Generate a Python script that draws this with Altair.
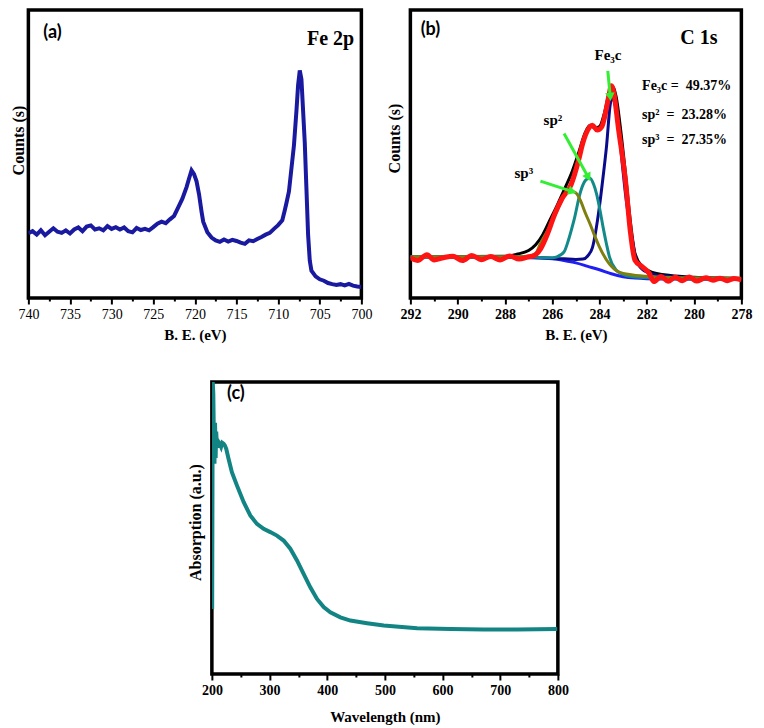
import math
import altair as alt
import pandas as pd

SERIF = "Liberation Serif"
SANS = "Lato"
NB = "\u00a0"

# ---------------- Panel (a): Fe 2p ----------------
fe_x = [740, 739.5, 739, 738.5, 738, 737.5, 737, 736.5, 736, 735.5, 735, 734.5, 734, 733.5,
        733, 732.5, 732, 731.5, 731, 730.5, 730, 729.5, 729, 728.5, 728, 727.5, 727, 726.5,
        726, 725.5, 725, 724.5, 724, 723.5, 723, 722.5, 722, 721.5, 721, 720.7, 720.4, 720.1,
        719.8, 719.5, 719.2, 719, 718.5, 718, 717.5, 717, 716.5, 716, 715.5, 715, 714.5, 714,
        713.5, 713, 712.5, 712, 711.5, 711, 710.5, 710, 709.5, 709.2, 709, 708.7, 708.4, 708.1,
        707.8, 707.6, 707.4, 707.2, 707.0, 706.8, 706.6, 706.4, 706.2, 706.0, 705.5, 705, 704.5,
        704, 703.5, 703, 702.5, 702, 701.5, 701, 700.5, 700]
fe_y = [22.5, 23.2, 22.0, 23.5, 21.8, 23.0, 24.2, 23.0, 22.6, 23.5, 22.4, 23.8, 24.5, 23.2,
        24.8, 25.2, 23.8, 24.2, 23.5, 25.0, 24.0, 24.6, 23.8, 24.5, 23.2, 22.8, 24.3, 23.6,
        24.0, 23.5, 24.6, 25.8, 26.5, 26.0, 27.3, 28.5, 31.5, 34.5, 38.5, 41.5, 44.3, 43.0,
        40.5, 36.0, 30.0, 26.5, 22.8, 21.0, 20.0, 19.5, 20.3, 19.6, 20.2, 19.8, 19.2, 18.8,
        20.0, 19.7, 20.5, 21.2, 22.0, 22.6, 24.0, 25.3, 27.0, 30.5, 33.0, 37.0, 45.0, 53.0,
        65.0, 74.0, 79.0, 76.0, 65.0, 54.0, 38.0, 22.0, 13.0, 9.5, 7.5, 6.5, 6.0,
        5.2, 4.8, 4.5, 4.8, 4.4, 4.9, 4.3, 4.0, 3.8]
a_ticks = [700 + 2.5 * i for i in range(17)]

# ---------------- Panel (b): C 1s ----------------
c1s_x = [292, 291.7, 291.3, 291.0, 290.6, 290.2, 289.8, 289.4, 289.0, 288.6, 288.2, 287.8, 287.4,
         287.0, 286.8, 286.5, 286.2, 285.9, 285.6, 285.2, 284.9, 284.7, 284.5, 284.3, 284.1, 283.9,
         283.8, 283.6, 283.5, 283.4, 283.2, 282.9, 282.7, 282.5, 282.2, 281.9, 281.7, 281.4, 281.1,
         280.8, 280.5, 280.2, 279.9, 279.5, 279.2, 278.9, 278.6, 278.3, 278.0]
c1s_y = [14.0, 13.0, 15.0, 13.2, 14.0, 14.5, 13.0, 14.8, 13.3, 14.4, 13.2, 14.6, 13.5,
         14.3, 14.6, 17.0, 22.3, 29.0, 34.3, 39.4, 47.4, 54.0, 58.3, 60.0, 58.3, 59.5,
         62.3, 70.3, 73.7, 71.4, 58.9, 40.6, 23.4, 13.1, 10.9, 8.6, 5.7, 7.5, 5.8,
         7.2, 6.0, 7.3, 5.9, 7.0, 6.2, 6.9, 6.0, 6.8, 6.3]
env_x = [292, 288, 287.5, 287, 286.7, 286.4, 286.1, 285.8, 285.5, 285.2, 284.9, 284.6, 284.4,
         284.2, 284.0, 283.8, 283.6, 283.45, 283.3, 283.1, 282.9, 282.7, 282.5, 282.2, 281.8,
         281, 280, 278]
env_y = [14.3, 14.5, 15.2, 16.5, 18.5, 22, 27, 32, 37.5, 43, 50, 57.5, 60,
         59, 59.5, 64, 71, 73.5, 70, 58, 43, 27, 15.5, 11, 9,
         7.8, 7.2, 6.8]
bg_x = [292, 288, 287, 286, 285.5, 285, 284.5, 284, 283.5, 283, 282.5, 282, 281, 280, 278]
bg_y = [14.3, 14.2, 14.0, 13.6, 13.0, 12.2, 11.0, 9.8, 8.4, 7.4, 6.9, 6.7, 6.6, 6.5, 6.4]
fe3c_x = [292, 287, 285.5, 285, 284.7, 284.5, 284.3, 284.0, 283.85, 283.7, 283.55, 283.45, 283.35,
          283.23, 283.03, 282.9, 282.75, 282.6, 282.48, 282.2, 281.7, 281, 280, 278]
fe3c_y = [14.3, 14.1, 13.6, 13.4, 13.5, 14.6, 17.5, 32, 42, 53, 67, 69.7, 67.5,
          62, 46, 36, 27, 19.5, 14.3, 10, 8.2, 7.5, 7.1, 6.8]
sp2_x = [292, 287, 286, 285.8, 285.5, 285.3, 285.08, 284.8, 284.6, 284.42, 284.25, 284.12, 283.98,
         283.85, 283.7, 283.58, 283.3, 283.0, 282.5, 281.5, 280, 278]
sp2_y = [14.3, 14.2, 14.0, 14.3, 16, 20.5, 27, 37, 40.8, 41.7, 39.5, 36, 30.5,
         24.6, 18.5, 14.3, 9.7, 8.2, 7.3, 6.9, 6.6, 6.4]
sp3_x = [292, 288, 287, 286.7, 286.5, 286.2, 285.8, 285.5, 285.2, 285.0, 284.8, 284.6, 284.4,
         284.2, 284.0, 283.6, 283.2, 282.6, 281.7, 280, 278]
sp3_y = [14.3, 14.3, 14.5, 15.5, 18.9, 23.4, 30.3, 35.4, 37.1, 36.5, 33.7, 29.5, 25.7,
         21.5, 17.7, 12, 9.1, 8.0, 7.4, 7.0, 6.9]
b_ticks = list(range(278, 293))

arrow_x1 = [283.65, 285.5, 286.5]
arrow_y1 = [78.9, 57.1, 40.6]
arrow_x2 = [283.55, 284.5, 285.2]
arrow_y2 = [70.3, 42.3, 37.1]
arrow_lbl = ["Fe₃c", "sp²", "sp³"]
arrow_lbl_x = [283.64, 285.97, 287.2]
arrow_lbl_y = [84.3, 61.7, 43.5]

pct_lbl = ["Fe₃c =" + NB * 2 + "49.37%",
           "sp²" + NB * 2 + "=" + NB * 2 + "23.28%",
           "sp³" + NB * 2 + "=" + NB * 2 + "27.35%"]
pct_x = [282.2, 282.2, 282.2]
pct_y = [73.7, 63.4, 54.9]

# ---------------- Panel (c): UV-Vis ----------------
uv_x = [200.5, 201.5, 202.5, 203.5, 204.5, 205.5, 206.5, 207.5, 208.7, 210, 211.6, 213, 214.5,
        216, 218, 220.3, 222.5, 224.9, 228.9, 234.7, 243.4, 255, 266.6, 278.1, 289.7, 301.3,
        312.8, 324.4, 336, 347.6, 359.1, 370.7, 382.3, 393.9, 405.4, 422.8, 440.2, 469.1, 498,
        555.9, 613.8, 671.6, 729.5, 798.9]
uv_y = [22.3, 100, 96, 80, 72, 86, 74, 83, 78.3, 79.5, 77.5, 79, 78.5,
        77.8, 79.2, 78.9, 78.3, 77.1, 73.7, 69.1, 64.6, 58.9, 54.3, 51.4, 49.7, 48.6,
        47.4, 45.7, 42.9, 38.9, 34.3, 29.7, 25.7, 22.9, 21.1, 19.4, 18.3, 17.4, 16.6,
        15.7, 15.4, 15.2, 15.2, 15.4]
c_ticks = list(range(200, 801, 50))

W_A, W_B, H_TOP = 333, 331, 288
W_C, H_C = 346, 292


def x_axis(values, test, title, bold, title_pad):
    return alt.Axis(
        values=values, format="d",
        labelExpr="(" + test + ") ? datum.label : ''",
        labelFlush=False, labelOverlap=False,
        tickSize={"condition": {"test": test, "value": 6}, "value": 3},
        tickWidth=2, tickColor="black", domain=False, grid=False,
        labelFont=SERIF, labelFontSize=14, labelFontWeight="bold" if bold else "normal",
        labelColor="black", labelPadding=3,
        title=title, titleFont=SERIF, titleFontSize=15, titleFontWeight="bold",
        titleColor="black", titlePadding=title_pad)


def y_axis(title, title_y, pad):
    return alt.Axis(labels=False, ticks=False, domain=False, grid=False, title=title,
                    titleFont=SERIF, titleFontSize=16, titleFontWeight="bold",
                    titleColor="black", titlePadding=pad, titleY=title_y)


def txt(x, y, t, enc_x, enc_y, font, size, weight="bold", align="center"):
    d = pd.DataFrame({"x": x, "y": y, "t": t})
    return alt.Chart(d).mark_text(font=font, fontSize=size, fontWeight=weight, color="black",
                                  align=align, baseline="middle").encode(x=enc_x, y=enc_y, text="t:N")


# ----- (a)
xa = alt.X("x:Q", scale=alt.Scale(domain=[700, 740], reverse=True, nice=False, zero=False),
           axis=x_axis(a_ticks, "datum.value % 5 == 0", "B. E. (eV)", False, 6))
ya = alt.Y("y:Q", scale=alt.Scale(domain=[0, 100], nice=False, zero=False),
           axis=y_axis("Counts (s)", 130, 2))
line_a = alt.Chart(pd.DataFrame({"x": fe_x, "y": fe_y})).mark_line(
    color="#1a1aa0", strokeWidth=4, clip=True).encode(x=xa, y=ya)
panel_a = alt.layer(
    line_a,
    txt([737.1], [92], ["(a)"], xa, ya, SANS, 18),
    txt([703.7], [89.8], ["Fe 2p"], xa, ya, SERIF, 20),
).properties(width=W_A, height=H_TOP)

# ----- (b)
xb = alt.X("x:Q", scale=alt.Scale(domain=[278, 292], reverse=True, nice=False, zero=False),
           axis=x_axis(b_ticks, "datum.value % 2 == 0", "B. E. (eV)", True, 6))
yb = alt.Y("y:Q", scale=alt.Scale(domain=[0, 100], nice=False, zero=False),
           axis=y_axis("Counts (s)", 128, 8))

series_b = [
    (env_x, env_y, "black", 3),
    (bg_x, bg_y, "#1f1ff5", 3),
    (fe3c_x, fe3c_y, "#0a0a8c", 3),
    (sp2_x, sp2_y, "#128a8a", 3),
    (sp3_x, sp3_y, "#7f7f10", 3),
    (c1s_x, c1s_y, "#ff1414", 5),
]
layers_b = []
for sx, sy, col, sw in series_b:
    layers_b.append(alt.Chart(pd.DataFrame({"x": sx, "y": sy})).mark_line(
        color=col, strokeWidth=sw, interpolate="monotone", clip=True).encode(x=xb, y=yb))

# arrows
angles = []
for x1, y1, x2, y2 in zip(arrow_x1, arrow_y1, arrow_x2, arrow_y2):
    dx = (x1 - x2) / 14 * W_B
    dy = (y1 - y2) / 100 * H_TOP
    angles.append(math.degrees(math.atan2(dx, -dy)) % 360)
arr_df = pd.DataFrame({"x": arrow_x1, "y": arrow_y1, "x2": arrow_x2, "y2": arrow_y2})
shafts = alt.Chart(arr_df).mark_rule(color="#33ee33", strokeWidth=3).encode(
    x=xb, y=yb, x2="x2:Q", y2="y2:Q")
heads = alt.Chart(pd.DataFrame({"x": arrow_x2, "y": arrow_y2, "a": angles})).mark_point(
    shape="triangle", filled=True, color="#33ee33", size=90, opacity=1).encode(
    x=xb, y=yb, angle=alt.Angle("a:Q", scale=None))

panel_b = alt.layer(
    *layers_b, shafts, heads,
    txt(arrow_lbl_x, arrow_lbl_y, arrow_lbl, xb, yb, SERIF, 15),
    txt(pct_x, pct_y, pct_lbl, xb, yb, SERIF, 14, align="left"),
    txt([291.15], [93.1], ["(b)"], xb, yb, SANS, 18),
    txt([279.8], [90.3], ["C 1s"], xb, yb, SERIF, 20),
).properties(width=W_B, height=H_TOP)

# ----- (c)
xc = alt.X("x:Q", scale=alt.Scale(domain=[200, 800], nice=False, zero=False),
           axis=x_axis(c_ticks, "datum.value % 100 == 0", "Wavelength (nm)", True, 12))
yc = alt.Y("y:Q", scale=alt.Scale(domain=[0, 100], nice=False, zero=False),
           axis=y_axis("Absorption (a.u.)", 140, 8))
line_c = alt.Chart(pd.DataFrame({"x": uv_x, "y": uv_y})).mark_line(
    color="#138484", strokeWidth=4, clip=True).encode(x=xc, y=yc)
panel_c = alt.layer(
    line_c,
    txt([241.7], [96], ["(c)"], xc, yc, SANS, 18),
).properties(width=W_C, height=H_C)

top = alt.hconcat(panel_a, panel_b, spacing=10)
chart = alt.vconcat(top, panel_c, spacing=36, center=True).properties(
    padding=0, background="white"
).configure_view(stroke="black", strokeWidth=3.5)

chart.save("out.html", embed_options={"renderer": "svg", "actions": False})
